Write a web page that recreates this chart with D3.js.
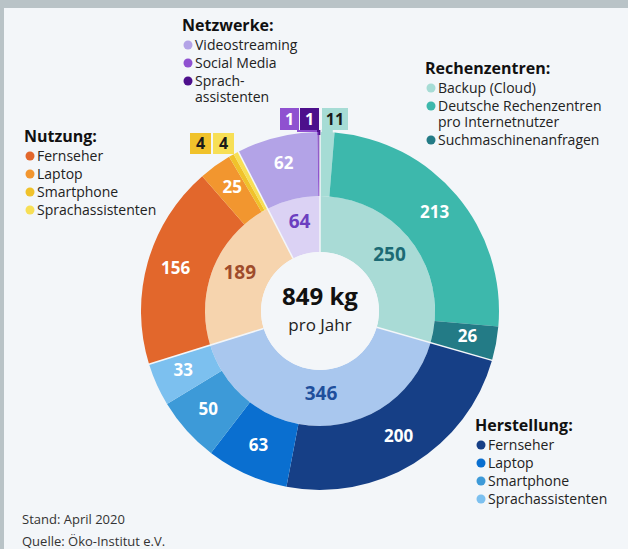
<!DOCTYPE html>
<html>
<head>
<meta charset="utf-8">
<script src="https://cdn.jsdelivr.net/npm/d3@7"></script>
<style>
  body { margin: 0; background: #b9c3c7; }
  svg { display: block; font-family: "Open Sans", sans-serif; }
</style>
</head>
<body>
<script>
// data, clockwise from 12 o'clock
const groupNames = ["Rechenzentren", "Herstellung", "Nutzung", "Netzwerke"];
const groupTotals = [250, 346, 189, 64];
const itemGroup = [0, 0, 0, 1, 1, 1, 1, 2, 2, 2, 2, 3, 3, 3];
const itemNames = ["Backup (Cloud)", "Deutsche Rechenzentren pro Internetnutzer", "Suchmaschinenanfragen",
                   "Fernseher", "Laptop", "Smartphone", "Sprachassistenten",
                   "Fernseher", "Laptop", "Smartphone", "Sprachassistenten",
                   "Videostreaming", "Social Media", "Sprachassistenten"];
const itemValues = [11, 213, 26, 200, 63, 50, 33, 156, 25, 4, 4, 62, 1, 1];
const legendLabels = [["Backup (Cloud)"], ["Deutsche Rechenzentren", "pro Internetnutzer"], ["Suchmaschinenanfragen"],
                      ["Fernseher"], ["Laptop"], ["Smartphone"], ["Sprachassistenten"],
                      ["Fernseher"], ["Laptop"], ["Smartphone"], ["Sprachassistenten"],
                      ["Videostreaming"], ["Social Media"], ["Sprach-", "assistenten"]];
const totalLabel = "849 kg";
const totalSub = "pro Jahr";
const footerLines = ["Stand: April 2020", "Quelle: Öko-Institut e.V."];

window.onload = () => {
    const W = 628, H = 549;
    const cx = 320, cy = 311;
    const rHole = 59, rMid = 115, rOut = 179;
    const bg = "#f3f6f9";

    const itemColors = ["#a6dcd5", "#3db8ac", "#237b86",
                        "#163f86", "#0a6fd0", "#3d9ad8", "#7cc0ef",
                        "#e2672c", "#f2962f", "#f0c22b", "#f7df56",
                        "#b3a3e7", "#8f51d0", "#4d108c"];
    const groupColors = ["#a9dbd6", "#a9c7ee", "#f6d4ae", "#dbd2f4"];
    const groupTextColors = ["#1b6a74", "#1f4f9c", "#9f4c2b", "#6c3fc0"];

    const svg = d3.select("body").append("svg")
        .attr("width", W)
        .attr("height", H);

    svg.append("rect")
        .attr("x", 4).attr("y", 8)
        .attr("width", W - 4).attr("height", H - 8)
        .attr("fill", bg);

    const g = svg.append("g")
        .attr("transform", "translate(" + cx + "," + cy + ")");

    const pie = d3.pie().sort(null).value(d => d);
    const groupArcs = pie(groupTotals);
    const itemArcs = pie(itemValues);

    const innerArc = d3.arc().innerRadius(rHole).outerRadius(rMid);
    const outerArc = d3.arc().innerRadius(rMid).outerRadius(rOut);
    const outerLabelArc = d3.arc().innerRadius(rMid + 6).outerRadius(rOut);

    // inner ring
    g.selectAll("path.inner")
        .data(groupArcs)
        .enter()
        .append("path")
        .attr("class", "inner")
        .attr("d", innerArc)
        .attr("fill", (d, i) => groupColors[i]);

    // outer ring
    g.selectAll("path.outer")
        .data(itemArcs)
        .enter()
        .append("path")
        .attr("class", "outer")
        .attr("d", outerArc)
        .attr("fill", (d, i) => itemColors[i]);

    // thin gaps between the groups
    g.selectAll("line.sep")
        .data(groupArcs)
        .enter()
        .append("line")
        .attr("class", "sep")
        .attr("x1", d => rHole * Math.sin(d.startAngle))
        .attr("y1", d => -rHole * Math.cos(d.startAngle))
        .attr("x2", d => (rOut + 1) * Math.sin(d.startAngle))
        .attr("y2", d => -(rOut + 1) * Math.cos(d.startAngle))
        .attr("stroke", bg)
        .attr("stroke-width", 1.5);

    // white centre
    g.append("circle")
        .attr("r", rHole)
        .attr("fill", bg);

    g.append("text")
        .attr("text-anchor", "middle")
        .attr("y", -6)
        .attr("font-size", 24)
        .attr("font-weight", 700)
        .attr("fill", "#111")
        .text(totalLabel);

    g.append("text")
        .attr("text-anchor", "middle")
        .attr("y", 20)
        .attr("font-size", 17)
        .attr("fill", "#222")
        .text(totalSub);

    // inner labels
    g.selectAll("text.inner")
        .data(groupArcs)
        .enter()
        .append("text")
        .attr("class", "inner")
        .attr("transform", d => "translate(" + innerArc.centroid(d) + ")")
        .attr("dy", "0.1em")
        .attr("text-anchor", "middle")
        .attr("font-size", 19)
        .attr("font-weight", 700)
        .attr("fill", (d, i) => groupTextColors[i])
        .text(d => d.value);

    // outer labels (big segments)
    g.selectAll("text.outer")
        .data(itemArcs.filter(d => d.value > 20))
        .enter()
        .append("text")
        .attr("class", "outer")
        .attr("transform", d => "translate(" + outerLabelArc.centroid(d) + ")")
        .attr("dy", "0.2em")
        .attr("text-anchor", "middle")
        .attr("font-size", 17)
        .attr("font-weight", 700)
        .attr("fill", "#fff")
        .text(d => d.value);

    // callout boxes for the tiny segments
    const callouts = [
        {i: 0,  x: 322, y: 108, w: 26, h: 22, strip: true},
        {i: 9,  x: 190, y: 133, w: 21, h: 21},
        {i: 10, x: 213, y: 133, w: 21, h: 21},
        {i: 12, x: 280, y: 108, w: 19, h: 22},
        {i: 13, x: 300, y: 108, w: 19, h: 22}
    ];
    const darkText = [0, 9, 10];

    callouts.forEach(c => {
        const a = itemArcs[c.i];
        const mid = (a.startAngle + a.endAngle) / 2;
        const px = cx + rOut * Math.sin(mid);
        const py = cy - rOut * Math.cos(mid);
        if (c.strip) {
            svg.append("line")
                .attr("x1", px).attr("x2", px)
                .attr("y1", c.y + c.h - 1).attr("y2", py + 3)
                .attr("stroke", itemColors[c.i])
                .attr("stroke-width", 11);
        } else if (c.i > 11) {
            svg.append("polyline")
                .attr("points", [[c.x + c.w - 1, c.y + c.h], [c.x + c.w - 1, py - 1], [px, py - 1], [px, py + 3]].join(" "))
                .attr("fill", "none")
                .attr("stroke", itemColors[c.i])
                .attr("stroke-width", 2);
        }
        svg.append("rect")
            .attr("x", c.x).attr("y", c.y)
            .attr("width", c.w).attr("height", c.h)
            .attr("fill", itemColors[c.i]);
        svg.append("text")
            .attr("x", c.x + c.w / 2)
            .attr("y", c.y + c.h / 2)
            .attr("dy", "0.36em")
            .attr("text-anchor", "middle")
            .attr("font-size", 16)
            .attr("font-weight", 700)
            .attr("fill", darkText.includes(c.i) ? "#1a1a1a" : "#fff")
            .text(itemValues[c.i]);
    });

    // legends
    const legendPos = [
        {x: 425, y: 74},
        {x: 475, y: 431},
        {x: 24, y: 142},
        {x: 182, y: 31}
    ];

    groupNames.forEach((name, gi) => {
        const p = legendPos[gi];
        const lg = svg.append("g");
        lg.append("text")
            .attr("x", p.x).attr("y", p.y)
            .attr("font-size", 16)
            .attr("font-weight", 700)
            .attr("fill", "#111")
            .text(name + ":");
        let y = p.y + 19;
        itemGroup.forEach((ig, i) => {
            if (ig !== gi) return;
            lg.append("circle")
                .attr("cx", p.x + 6)
                .attr("cy", y - 5)
                .attr("r", 4.5)
                .attr("fill", itemColors[i]);
            const t = lg.append("text")
                .attr("x", p.x + 13)
                .attr("y", y)
                .attr("font-size", 14)
                .attr("fill", "#222");
            legendLabels[i].forEach((line, k) => {
                t.append("tspan")
                    .attr("x", p.x + 13)
                    .attr("dy", k === 0 ? 0 : 16)
                    .text(line);
            });
            y += 18 + (legendLabels[i].length - 1) * 16;
        });
    });

    // source
    svg.selectAll("text.footer")
        .data(footerLines)
        .enter()
        .append("text")
        .attr("class", "footer")
        .attr("x", 22)
        .attr("y", (d, i) => 524 + i * 22)
        .attr("font-size", 13)
        .attr("fill", "#333")
        .text(d => d);
};
</script>
</body>
</html>
